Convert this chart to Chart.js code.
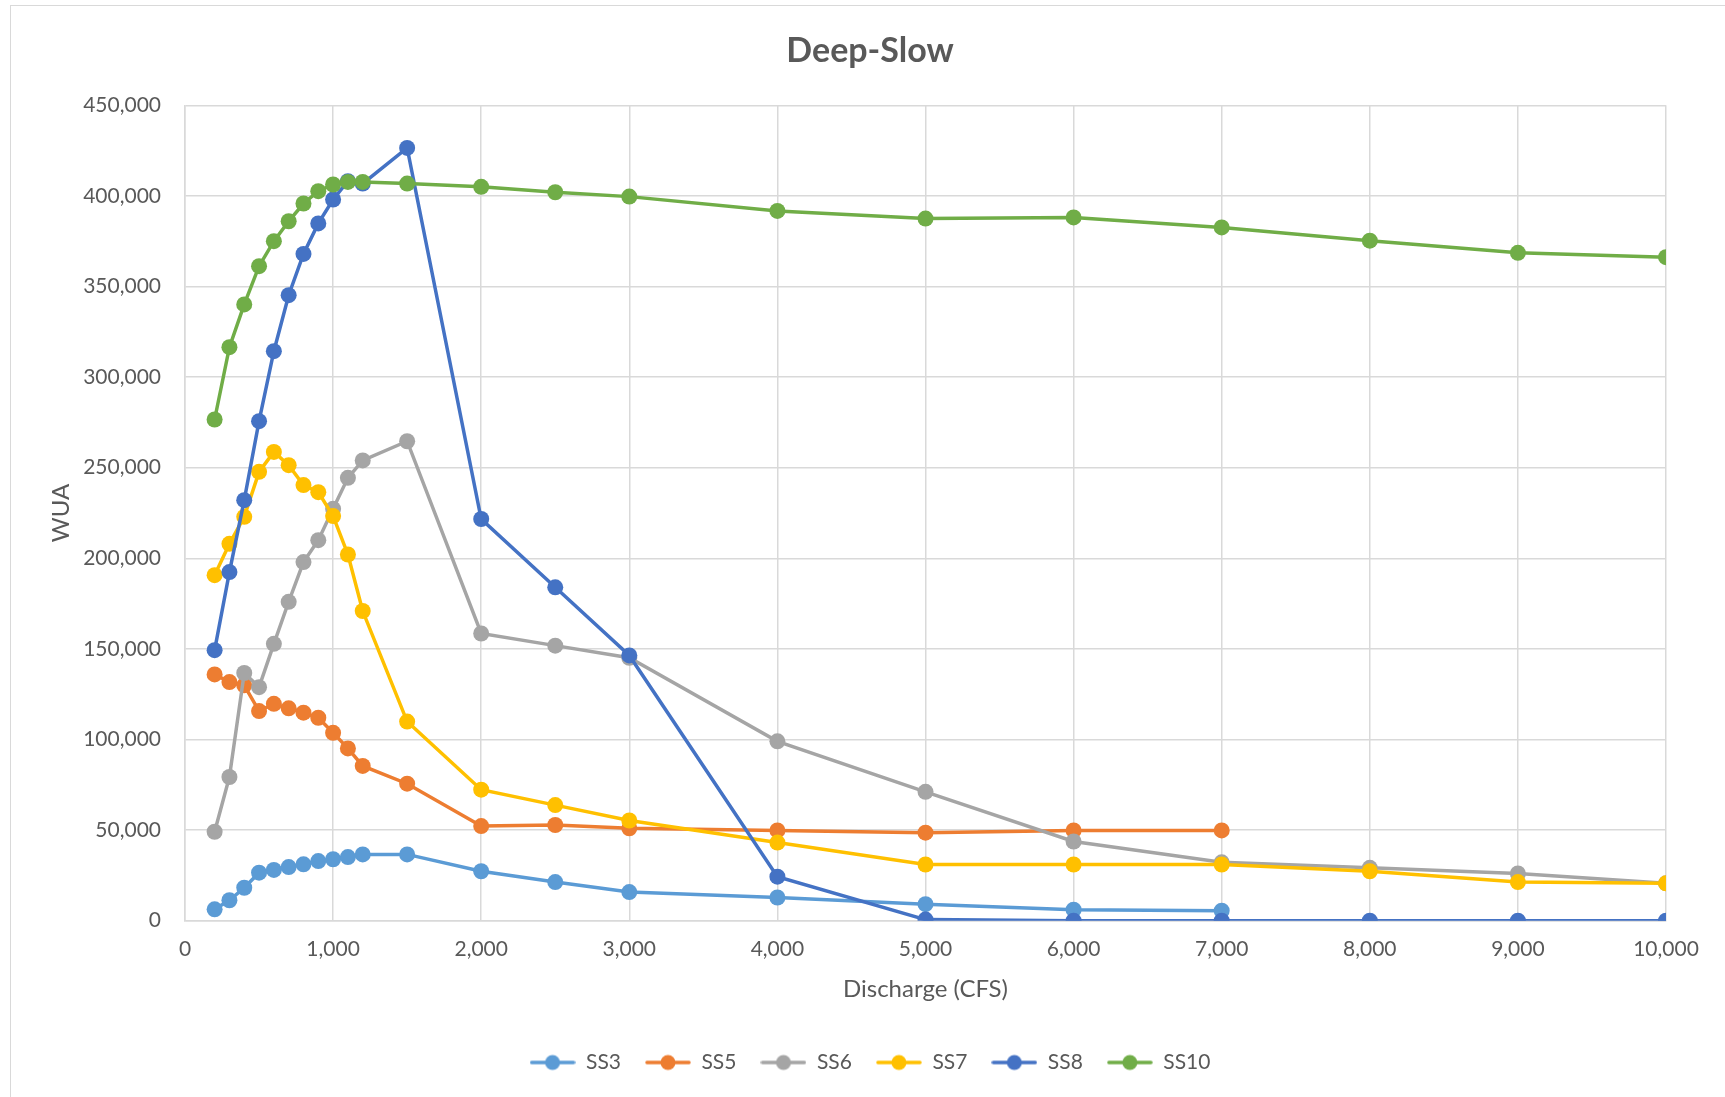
<!DOCTYPE html>
<html>
<head>
<meta charset="utf-8">
<script src="https://cdn.jsdelivr.net/npm/chart.js@4/dist/chart.umd.min.js"></script>
<style>
  html, body { margin: 0; padding: 0; background: #fff; overflow: hidden; }
  #frame { position: absolute; left: 10px; top: 5px; width: 1718px; height: 1100px; border: 1px solid #d9d9d9; }
</style>
</head>
<body>
<div id="frame"><canvas id="chart" width="1718" height="1100"></canvas></div>
<script>
  // discharge values (CFS) on the x axis
  const discharge = [200, 300, 400, 500, 600, 700, 800, 900, 1000, 1100, 1200, 1500,
                     2000, 2500, 3000, 4000, 5000, 6000, 7000, 8000, 9000, 10000];

  // WUA
  const ss3 = [6300, 11300, 18200, 26500, 28000, 29600, 31100, 32900, 33900, 35100, 36600, 36600,
               27300, 21300, 15800, 12800, 9100, 6100, 5500];
  const ss5 = [135900, 131700, 129900, 115700, 119700, 117200, 114800, 112000, 103700, 95100, 85400, 75600,
               52200, 52800, 51000, 49800, 48600, 49800, 49800];
  const ss6 = [49100, 79300, 136700, 128900, 152800, 176000, 197900, 210000, 227300, 244400, 254000, 264600,
               158500, 151800, 145100, 99000, 71100, 43700, 32200, 29200, 26100, 20600];
  const ss7 = [190700, 208000, 222900, 247700, 258700, 251400, 240400, 236500, 223300, 202100, 170900, 109900,
               72300, 63800, 55300, 43100, 31000, 31000, 31000, 27300, 21300, 20600];
  const ss8 = [149300, 192400, 232100, 275700, 314300, 345200, 368000, 384800, 398000, 408100, 406800, 426500,
               221700, 184000, 146400, 24300, 600, 0, 0, 0, 0, 0];
  const ss10 = [276600, 316500, 340100, 361200, 375000, 386000, 395800, 402600, 406300, 407700, 407700, 406800,
                405000, 402000, 399600, 391700, 387500, 388100, 382600, 375300, 368600, 366200];

  const seriesNames = ['SS3', 'SS5', 'SS6', 'SS7', 'SS8', 'SS10'];
  const seriesValues = [ss3, ss5, ss6, ss7, ss8, ss10];
  const colors = ['#5b9bd5', '#ed7d31', '#a5a5a5', '#ffc000', '#4472c4', '#70ad47'];

  const FONT = 'Lato, "Open Sans", sans-serif';
  const TEXT = '#595959';
  const GRID = '#d9d9d9';

  // little line-with-dot marker for the legend, like Excel
  function legendMarker(color) {
    const c = document.createElement('canvas');
    c.width = 46; c.height = 18;
    const g = c.getContext('2d');
    g.strokeStyle = color;
    g.lineWidth = 3.5;
    g.lineCap = 'round';
    g.beginPath(); g.moveTo(2, 9); g.lineTo(44, 9); g.stroke();
    g.fillStyle = color;
    g.beginPath(); g.arc(23, 9, 7.5, 0, Math.PI * 2); g.fill();
    return c;
  }

  const datasets = seriesNames.map(function(name, i) {
    return {
      label: name,
      data: seriesValues[i].map(function(v, j) { return { x: discharge[j], y: v }; }),
      borderColor: colors[i],
      backgroundColor: colors[i],
      borderWidth: 3.5,
      pointRadius: 8,
      pointHoverRadius: 8,
      pointBorderWidth: 0,
      showLine: true,
      order: seriesNames.length - i   // last series drawn on top
    };
  });

  const ctx = document.getElementById('chart');

  new Chart(ctx, {
    type: 'scatter',
    data: { datasets: datasets },
    options: {
      responsive: false,
      animation: false,
      locale: 'en-US',
      layout: { padding: { left: 0, right: 0, top: 0, bottom: 23 } },
      plugins: {
        tooltip: { enabled: false },
        title: {
          display: true,
          text: 'Deep-Slow',
          color: TEXT,
          font: { family: FONT, size: 34, weight: 'bold' },
          padding: { top: 24.5, bottom: 34 }
        },
        legend: {
          position: 'bottom',
          labels: {
            usePointStyle: true,
            pointStyleWidth: 46,
            boxHeight: 18,
            padding: 24,
            color: TEXT,
            font: { family: FONT, size: 21 },
            sort: function(a, b) { return a.datasetIndex - b.datasetIndex; },
            generateLabels: function(chart) {
              const items = Chart.defaults.plugins.legend.labels.generateLabels(chart);
              items.forEach(function(it) { it.pointStyle = legendMarker(colors[it.datasetIndex]); });
              return items;
            }
          }
        }
      },
      scales: {
        x: {
          type: 'linear',
          min: 0,
          max: 10000,
          border: { color: GRID, width: 1.5 },
          grid: { color: GRID, lineWidth: 1.5, drawTicks: false },
          ticks: { stepSize: 1000, padding: 15.5, color: TEXT, font: { family: FONT, size: 21 } },
          title: {
            display: true,
            text: 'Discharge (CFS)',
            color: TEXT,
            font: { family: FONT, size: 24 },
            padding: { top: 0, bottom: 24 }
          },
          afterFit: function(scale) { scale.height = 107.3; }
        },
        y: {
          min: 0,
          max: 450000,
          border: { color: GRID, width: 1.5 },
          grid: { color: GRID, lineWidth: 1.5, drawTicks: false },
          ticks: { stepSize: 50000, padding: 24, color: TEXT, font: { family: FONT, size: 21 } },
          title: {
            display: true,
            text: 'WUA',
            color: TEXT,
            font: { family: FONT, size: 24 },
            padding: { top: 36.3, bottom: 0 }
          },
          afterFit: function(scale) { scale.width = 174; }
        },
        // empty right-hand axis, only reserves the blank margin right of the plot
        yRight: {
          position: 'right',
          grid: { display: false },
          border: { display: false },
          ticks: { display: false },
          afterFit: function(scale) { scale.width = 63; }
        }
      }
    }
  });
</script>
</body>
</html>
